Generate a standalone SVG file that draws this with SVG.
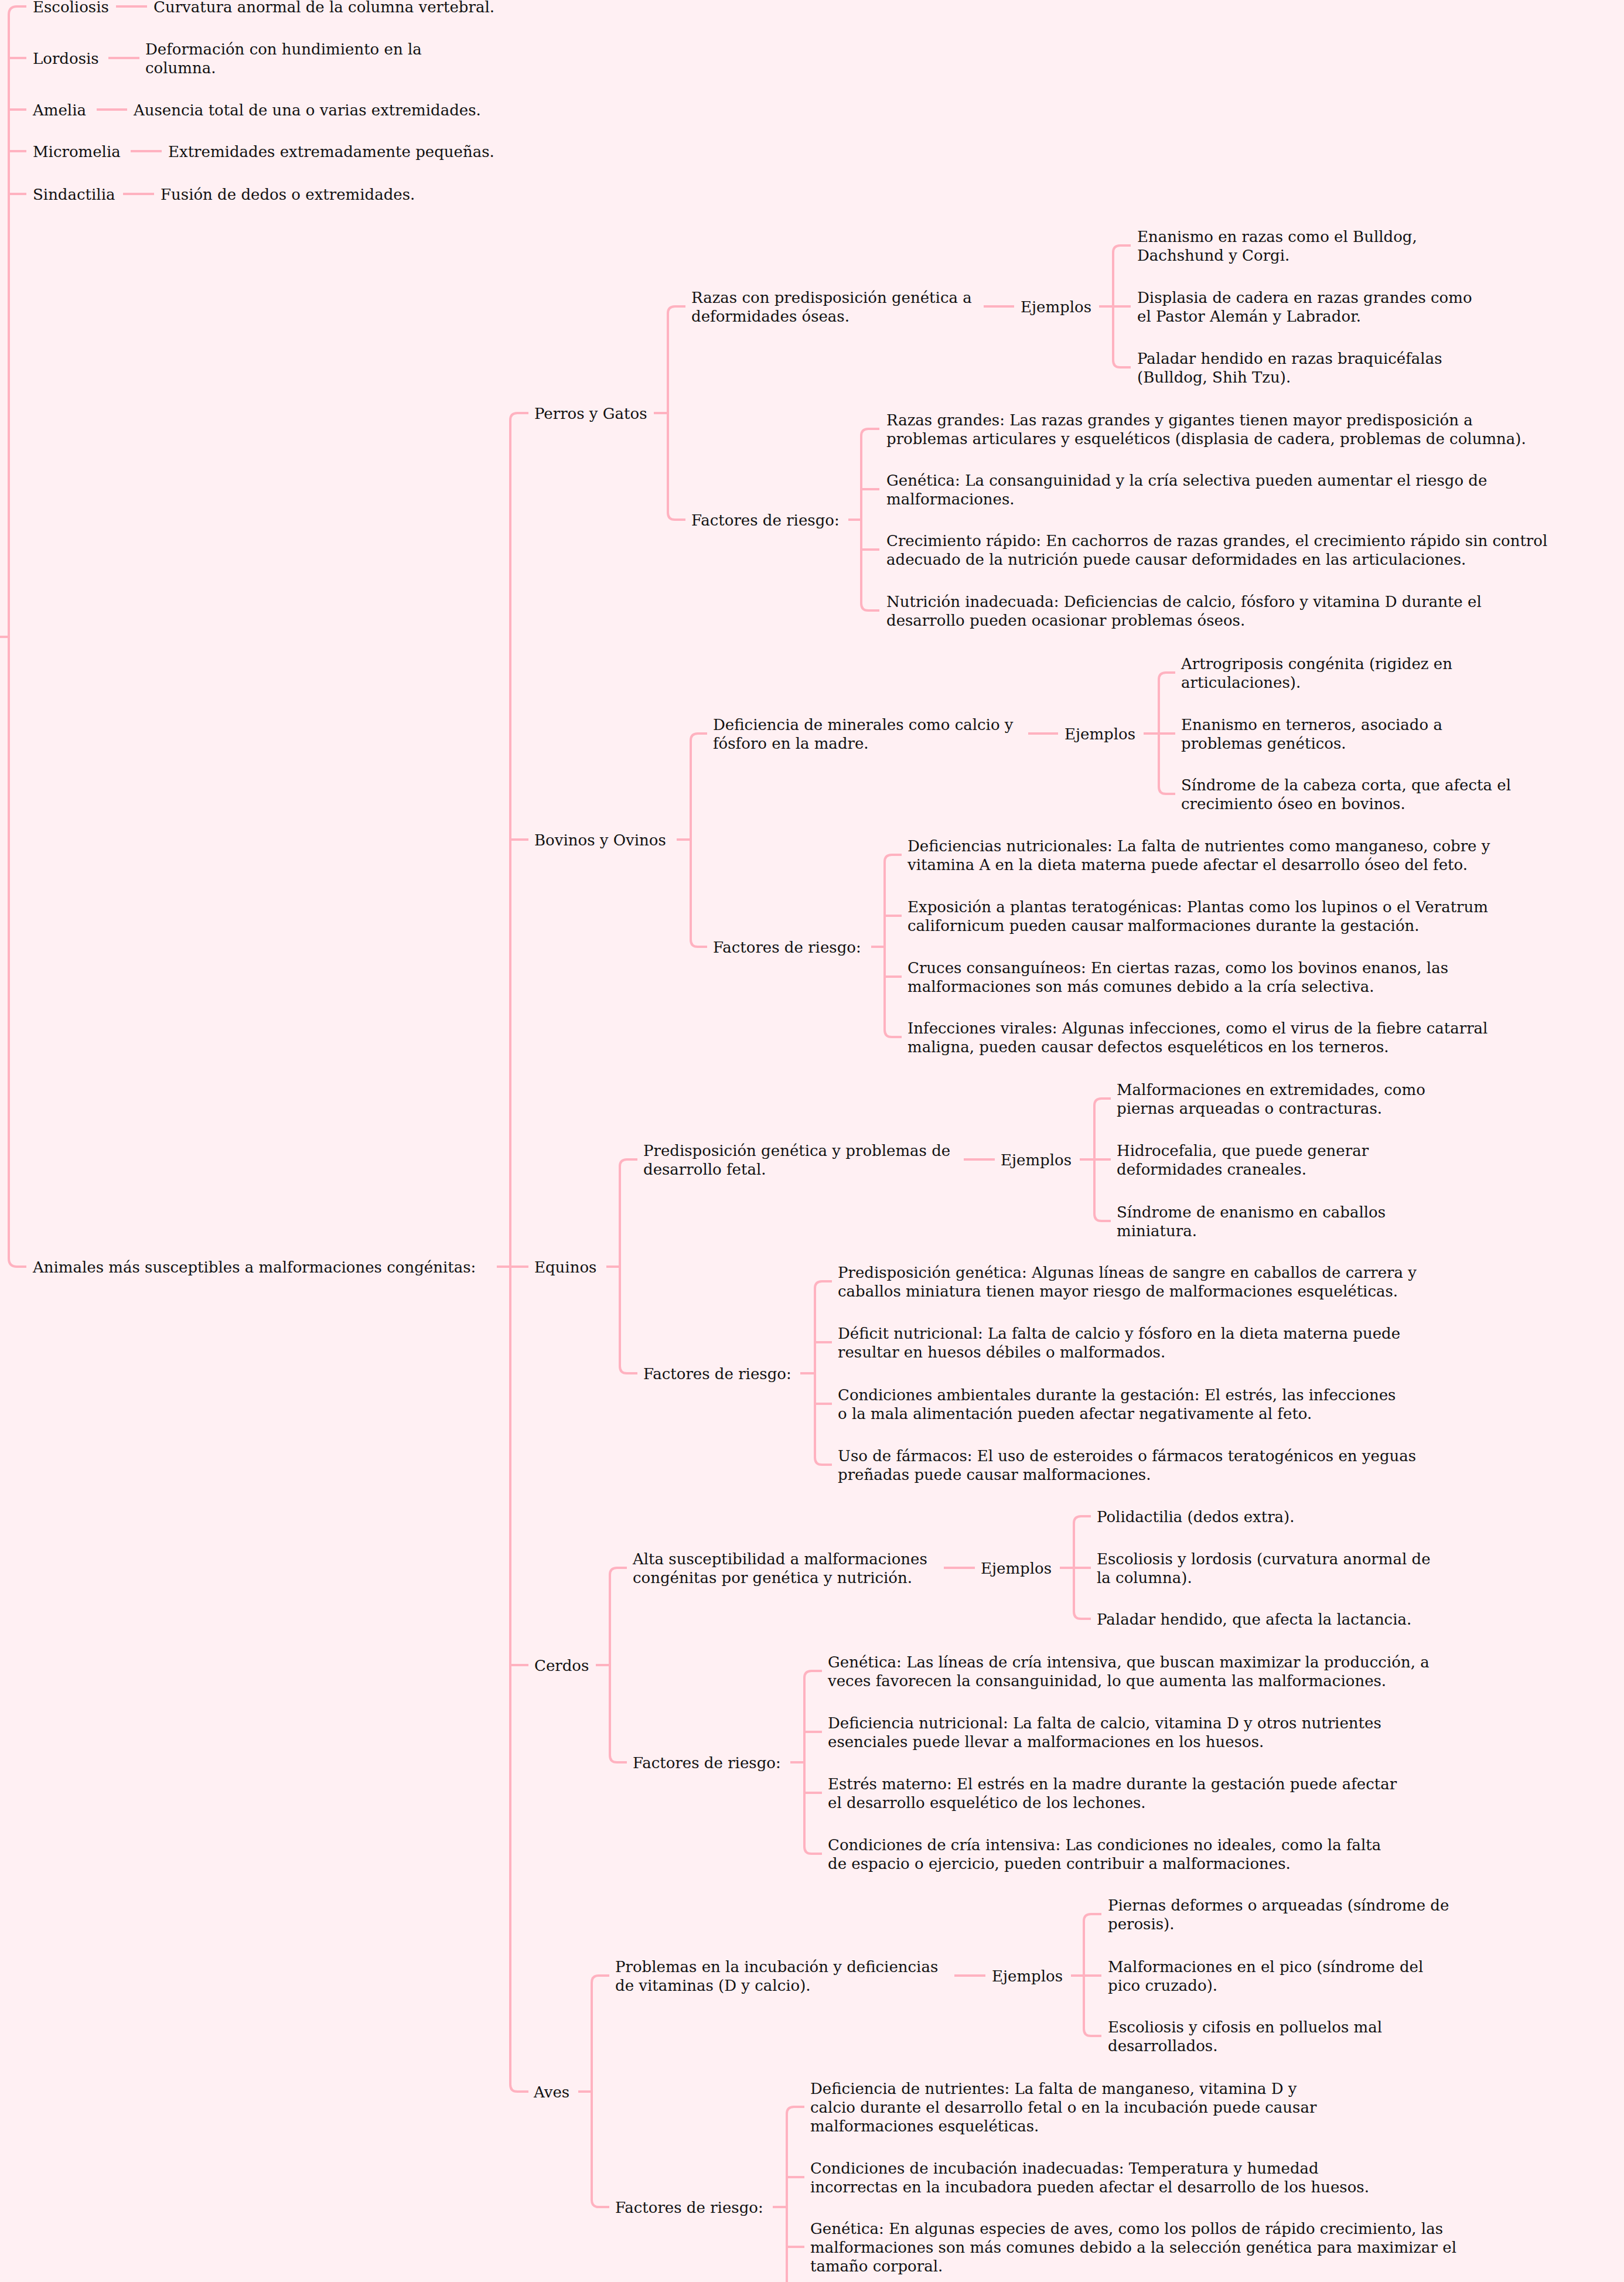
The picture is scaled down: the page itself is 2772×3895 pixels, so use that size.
<svg xmlns="http://www.w3.org/2000/svg" width="2772" height="3895" viewBox="0 0 2772 3895">
<style>
.t{font-family:"DejaVu Serif","Liberation Serif",serif;font-size:26px;fill:#111111}
.c{fill:none;stroke:#ffb2c0;stroke-width:4;stroke-linecap:butt}
</style>
<rect x="0" y="0" width="2772" height="3895" fill="#fff0f3"/>
<g id="connectors">
<path class="c" d="M45,11 H29 Q15,11 15,25 V2148 Q15,2162 29,2162 H45 M15,99 H45 M15,187 H45 M15,258 H45 M15,331 H45 M0,1087 H15"/>
<path class="c" d="M198,11 H251 M185,99 H238 M165,187 H217 M223,258 H276 M210,331 H263"/>
<path class="c" d="M848,2162 H871 M902,705 H883 Q871,705 871,717 V3558 Q871,3570 883,3570 H902 M871,1433 H902 M871,2162 H902 M871,2842 H902"/>
<path class="c" d="M1116,705 H1140 M1170,523 H1152 Q1140,523 1140,535 V875 Q1140,887 1152,887 H1170"/>
<path class="c" d="M1679,523 H1731 M1876,523 H1900 M1930,419 H1912 Q1900,419 1900,431 V615 Q1900,627 1912,627 H1930 M1900,523 H1930"/>
<path class="c" d="M1448,887 H1470 M1501,732 H1482 Q1470,732 1470,744 V1030 Q1470,1042 1482,1042 H1501 M1470,835 H1501 M1470,938 H1501"/>
<path class="c" d="M1155,1433 H1179 M1207,1252 H1191 Q1179,1252 1179,1264 V1604 Q1179,1616 1191,1616 H1207"/>
<path class="c" d="M1755,1252 H1806 M1952,1252 H1978 M2006,1148 H1990 Q1978,1148 1978,1160 V1343 Q1978,1355 1990,1355 H2006 M1978,1252 H2006"/>
<path class="c" d="M1487,1616 H1510 M1539,1459 H1522 Q1510,1459 1510,1471 V1758 Q1510,1770 1522,1770 H1539 M1510,1563 H1539 M1510,1667 H1539"/>
<path class="c" d="M1035,2162 H1058 M1088,1979 H1070 Q1058,1979 1058,1991 V2332 Q1058,2344 1070,2344 H1088"/>
<path class="c" d="M1645,1979 H1698 M1843,1979 H1868 M1896,1875 H1880 Q1868,1875 1868,1887 V2072 Q1868,2084 1880,2084 H1896 M1868,1979 H1896"/>
<path class="c" d="M1366,2344 H1391 M1420,2187 H1403 Q1391,2187 1391,2199 V2488 Q1391,2500 1403,2500 H1420 M1391,2291 H1420 M1391,2396 H1420"/>
<path class="c" d="M1017,2842 H1041 M1070,2676 H1053 Q1041,2676 1041,2688 V2996 Q1041,3008 1053,3008 H1070"/>
<path class="c" d="M1611,2676 H1664 M1809,2676 H1833 M1862,2588 H1845 Q1833,2588 1833,2600 V2751 Q1833,2763 1845,2763 H1862 M1833,2676 H1862"/>
<path class="c" d="M1349,3008 H1373 M1403,2852 H1385 Q1373,2852 1373,2864 V3152 Q1373,3164 1385,3164 H1403 M1373,2956 H1403 M1373,3060 H1403"/>
<path class="c" d="M987,3570 H1010 M1040,3372 H1022 Q1010,3372 1010,3384 V3755 Q1010,3767 1022,3767 H1040"/>
<path class="c" d="M1629,3372 H1682 M1828,3372 H1850 M1880,3267 H1862 Q1850,3267 1850,3279 V3463 Q1850,3475 1862,3475 H1880 M1850,3372 H1880"/>
<path class="c" d="M1319,3767 H1343 M1373,3596 H1355 Q1343,3596 1343,3608 V3927 Q1343,3939 1355,3939 H1373 M1343,3716 H1373 M1343,3835 H1373"/>
</g>
<g id="escoliosis"><text class="t" x="56" y="21">Escoliosis</text></g>
<g id="escoliosis-def"><text class="t" x="262" y="21">Curvatura anormal de la columna vertebral.</text></g>
<g id="lordosis"><text class="t" x="56" y="109">Lordosis</text></g>
<g id="lordosis-def"><text class="t"><tspan x="248" y="93">Deformación con hundimiento en la</tspan><tspan x="248" y="125">columna.</tspan></text></g>
<g id="amelia"><text class="t" x="56" y="197">Amelia</text></g>
<g id="amelia-def"><text class="t" x="228" y="197">Ausencia total de una o varias extremidades.</text></g>
<g id="micromelia"><text class="t" x="56" y="268">Micromelia</text></g>
<g id="micromelia-def"><text class="t" x="287" y="268">Extremidades extremadamente pequeñas.</text></g>
<g id="sindactilia"><text class="t" x="56" y="341">Sindactilia</text></g>
<g id="sindactilia-def"><text class="t" x="274" y="341">Fusión de dedos o extremidades.</text></g>
<g id="animales"><text class="t" x="56" y="2172">Animales más susceptibles a malformaciones congénitas:</text></g>

<g id="perros"><text class="t" x="912" y="715">Perros y Gatos</text></g>
<g id="perros-razas"><text class="t"><tspan x="1180" y="517">Razas con predisposición genética a</tspan><tspan x="1180" y="549">deformidades óseas.</tspan></text></g>
<g id="perros-ejemplos"><text class="t" x="1742" y="533">Ejemplos</text></g>
<g id="perros-ej1"><text class="t"><tspan x="1941" y="413">Enanismo en razas como el Bulldog,</tspan><tspan x="1941" y="445">Dachshund y Corgi.</tspan></text></g>
<g id="perros-ej2"><text class="t"><tspan x="1941" y="517">Displasia de cadera en razas grandes como</tspan><tspan x="1941" y="549">el Pastor Alemán y Labrador.</tspan></text></g>
<g id="perros-ej3"><text class="t"><tspan x="1941" y="621">Paladar hendido en razas braquicéfalas</tspan><tspan x="1941" y="653">(Bulldog, Shih Tzu).</tspan></text></g>
<g id="perros-factores"><text class="t" x="1180" y="897">Factores de riesgo:</text></g>
<g id="perros-f1"><text class="t"><tspan x="1513" y="726">Razas grandes: Las razas grandes y gigantes tienen mayor predisposición a</tspan><tspan x="1513" y="758">problemas articulares y esqueléticos (displasia de cadera, problemas de columna).</tspan></text></g>
<g id="perros-f2"><text class="t"><tspan x="1513" y="829">Genética: La consanguinidad y la cría selectiva pueden aumentar el riesgo de</tspan><tspan x="1513" y="861">malformaciones.</tspan></text></g>
<g id="perros-f3"><text class="t"><tspan x="1513" y="932">Crecimiento rápido: En cachorros de razas grandes, el crecimiento rápido sin control</tspan><tspan x="1513" y="964">adecuado de la nutrición puede causar deformidades en las articulaciones.</tspan></text></g>
<g id="perros-f4"><text class="t"><tspan x="1513" y="1036">Nutrición inadecuada: Deficiencias de calcio, fósforo y vitamina D durante el</tspan><tspan x="1513" y="1068">desarrollo pueden ocasionar problemas óseos.</tspan></text></g>

<g id="bovinos"><text class="t" x="912" y="1443">Bovinos y Ovinos</text></g>
<g id="bovinos-def"><text class="t"><tspan x="1217" y="1246">Deficiencia de minerales como calcio y</tspan><tspan x="1217" y="1278">fósforo en la madre.</tspan></text></g>
<g id="bovinos-ejemplos"><text class="t" x="1817" y="1262">Ejemplos</text></g>
<g id="bovinos-ej1"><text class="t"><tspan x="2016" y="1142">Artrogriposis congénita (rigidez en</tspan><tspan x="2016" y="1174">articulaciones).</tspan></text></g>
<g id="bovinos-ej2"><text class="t"><tspan x="2016" y="1246">Enanismo en terneros, asociado a</tspan><tspan x="2016" y="1278">problemas genéticos.</tspan></text></g>
<g id="bovinos-ej3"><text class="t"><tspan x="2016" y="1349">Síndrome de la cabeza corta, que afecta el</tspan><tspan x="2016" y="1381">crecimiento óseo en bovinos.</tspan></text></g>
<g id="bovinos-factores"><text class="t" x="1217" y="1626">Factores de riesgo:</text></g>
<g id="bovinos-f1"><text class="t"><tspan x="1549" y="1453">Deficiencias nutricionales: La falta de nutrientes como manganeso, cobre y</tspan><tspan x="1549" y="1485">vitamina A en la dieta materna puede afectar el desarrollo óseo del feto.</tspan></text></g>
<g id="bovinos-f2"><text class="t"><tspan x="1549" y="1557">Exposición a plantas teratogénicas: Plantas como los lupinos o el Veratrum</tspan><tspan x="1549" y="1589">californicum pueden causar malformaciones durante la gestación.</tspan></text></g>
<g id="bovinos-f3"><text class="t"><tspan x="1549" y="1661">Cruces consanguíneos: En ciertas razas, como los bovinos enanos, las</tspan><tspan x="1549" y="1693">malformaciones son más comunes debido a la cría selectiva.</tspan></text></g>
<g id="bovinos-f4"><text class="t"><tspan x="1549" y="1764">Infecciones virales: Algunas infecciones, como el virus de la fiebre catarral</tspan><tspan x="1549" y="1796">maligna, pueden causar defectos esqueléticos en los terneros.</tspan></text></g>

<g id="equinos"><text class="t" x="912" y="2172">Equinos</text></g>
<g id="equinos-def"><text class="t"><tspan x="1098" y="1973">Predisposición genética y problemas de</tspan><tspan x="1098" y="2005">desarrollo fetal.</tspan></text></g>
<g id="equinos-ejemplos"><text class="t" x="1708" y="1989">Ejemplos</text></g>
<g id="equinos-ej1"><text class="t"><tspan x="1906" y="1869">Malformaciones en extremidades, como</tspan><tspan x="1906" y="1901">piernas arqueadas o contracturas.</tspan></text></g>
<g id="equinos-ej2"><text class="t"><tspan x="1906" y="1973">Hidrocefalia, que puede generar</tspan><tspan x="1906" y="2005">deformidades craneales.</tspan></text></g>
<g id="equinos-ej3"><text class="t"><tspan x="1906" y="2078">Síndrome de enanismo en caballos</tspan><tspan x="1906" y="2110">miniatura.</tspan></text></g>
<g id="equinos-factores"><text class="t" x="1098" y="2354">Factores de riesgo:</text></g>
<g id="equinos-f1"><text class="t"><tspan x="1430" y="2181">Predisposición genética: Algunas líneas de sangre en caballos de carrera y</tspan><tspan x="1430" y="2213">caballos miniatura tienen mayor riesgo de malformaciones esqueléticas.</tspan></text></g>
<g id="equinos-f2"><text class="t"><tspan x="1430" y="2285">Déficit nutricional: La falta de calcio y fósforo en la dieta materna puede</tspan><tspan x="1430" y="2317">resultar en huesos débiles o malformados.</tspan></text></g>
<g id="equinos-f3"><text class="t"><tspan x="1430" y="2390">Condiciones ambientales durante la gestación: El estrés, las infecciones</tspan><tspan x="1430" y="2422">o la mala alimentación pueden afectar negativamente al feto.</tspan></text></g>
<g id="equinos-f4"><text class="t"><tspan x="1430" y="2494">Uso de fármacos: El uso de esteroides o fármacos teratogénicos en yeguas</tspan><tspan x="1430" y="2526">preñadas puede causar malformaciones.</tspan></text></g>

<g id="cerdos"><text class="t" x="912" y="2852">Cerdos</text></g>
<g id="cerdos-def"><text class="t"><tspan x="1080" y="2670">Alta susceptibilidad a malformaciones</tspan><tspan x="1080" y="2702">congénitas por genética y nutrición.</tspan></text></g>
<g id="cerdos-ejemplos"><text class="t" x="1674" y="2686">Ejemplos</text></g>
<g id="cerdos-ej1"><text class="t" x="1872" y="2598">Polidactilia (dedos extra).</text></g>
<g id="cerdos-ej2"><text class="t"><tspan x="1872" y="2670">Escoliosis y lordosis (curvatura anormal de</tspan><tspan x="1872" y="2702">la columna).</tspan></text></g>
<g id="cerdos-ej3"><text class="t" x="1872" y="2773">Paladar hendido, que afecta la lactancia.</text></g>
<g id="cerdos-factores"><text class="t" x="1080" y="3018">Factores de riesgo:</text></g>
<g id="cerdos-f1"><text class="t"><tspan x="1413" y="2846">Genética: Las líneas de cría intensiva, que buscan maximizar la producción, a</tspan><tspan x="1413" y="2878">veces favorecen la consanguinidad, lo que aumenta las malformaciones.</tspan></text></g>
<g id="cerdos-f2"><text class="t"><tspan x="1413" y="2950">Deficiencia nutricional: La falta de calcio, vitamina D y otros nutrientes</tspan><tspan x="1413" y="2982">esenciales puede llevar a malformaciones en los huesos.</tspan></text></g>
<g id="cerdos-f3"><text class="t"><tspan x="1413" y="3054">Estrés materno: El estrés en la madre durante la gestación puede afectar</tspan><tspan x="1413" y="3086">el desarrollo esquelético de los lechones.</tspan></text></g>
<g id="cerdos-f4"><text class="t"><tspan x="1413" y="3158">Condiciones de cría intensiva: Las condiciones no ideales, como la falta</tspan><tspan x="1413" y="3190">de espacio o ejercicio, pueden contribuir a malformaciones.</tspan></text></g>

<g id="aves"><text class="t" x="911" y="3580">Aves</text></g>
<g id="aves-def"><text class="t"><tspan x="1050" y="3366">Problemas en la incubación y deficiencias</tspan><tspan x="1050" y="3398">de vitaminas (D y calcio).</tspan></text></g>
<g id="aves-ejemplos"><text class="t" x="1693" y="3382">Ejemplos</text></g>
<g id="aves-ej1"><text class="t"><tspan x="1891" y="3261">Piernas deformes o arqueadas (síndrome de</tspan><tspan x="1891" y="3293">perosis).</tspan></text></g>
<g id="aves-ej2"><text class="t"><tspan x="1891" y="3366">Malformaciones en el pico (síndrome del</tspan><tspan x="1891" y="3398">pico cruzado).</tspan></text></g>
<g id="aves-ej3"><text class="t"><tspan x="1891" y="3469">Escoliosis y cifosis en polluelos mal</tspan><tspan x="1891" y="3501">desarrollados.</tspan></text></g>
<g id="aves-factores"><text class="t" x="1050" y="3777">Factores de riesgo:</text></g>
<g id="aves-f1"><text class="t"><tspan x="1383" y="3574">Deficiencia de nutrientes: La falta de manganeso, vitamina D y</tspan><tspan x="1383" y="3606">calcio durante el desarrollo fetal o en la incubación puede causar</tspan><tspan x="1383" y="3638">malformaciones esqueléticas.</tspan></text></g>
<g id="aves-f2"><text class="t"><tspan x="1383" y="3710">Condiciones de incubación inadecuadas: Temperatura y humedad</tspan><tspan x="1383" y="3742">incorrectas en la incubadora pueden afectar el desarrollo de los huesos.</tspan></text></g>
<g id="aves-f3"><text class="t"><tspan x="1383" y="3813">Genética: En algunas especies de aves, como los pollos de rápido crecimiento, las</tspan><tspan x="1383" y="3845">malformaciones son más comunes debido a la selección genética para maximizar el</tspan><tspan x="1383" y="3877">tamaño corporal.</tspan></text></g>
</svg>
